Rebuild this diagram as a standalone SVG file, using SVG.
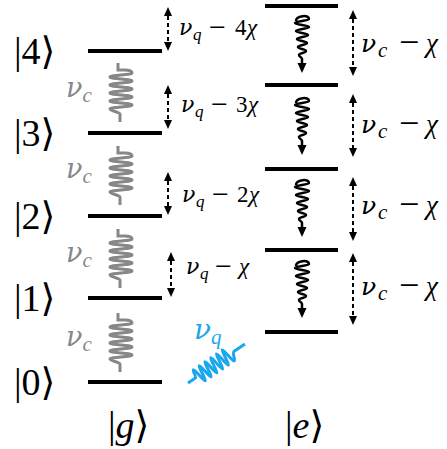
<svg xmlns="http://www.w3.org/2000/svg" width="447" height="449" viewBox="0 0 447 449">
<defs>
<style>
.lvl{stroke:#000;stroke-width:4;fill:none}
text{font-family:'Liberation Serif','DejaVu Serif',serif}
.ket{font-size:38px;fill:#000}
.it{font-style:italic}
.nu{font-family:'DejaVu Serif','Liberation Serif',serif;font-style:italic}
.gspr{stroke:#878787;stroke-width:3;fill:none;stroke-linecap:butt}
.bspr{stroke:#000;stroke-width:2.5;fill:none}
.dash{stroke:#000;stroke-width:2;stroke-dasharray:4 3;fill:none}
</style>
<marker id="ah" viewBox="0 0 9 8" refX="0" refY="4" markerWidth="9" markerHeight="8" markerUnits="userSpaceOnUse" orient="auto-start-reverse">
<path d="M0,0 L9,4 L0,8 z" fill="#000"/>
</marker>
<path id="gs" class="gspr" d="M-3,0 V7 H4 C8,7 11,8 11,10 C11,12 -11,12 -11,14 C-11,16 11,16 11,18 C11,20 -11,20 -11,22 C-11,24 11,24 11,26 C11,28 -11,28 -11,30 C-11,32 11,32 11,34 C11,36 -11,36 -11,38 C-11,40 11,40 11,42 C11,44 -11,44 -11,46 C-11,48 -1,49 -1,51 V59"/>
<g id="bs">
<path class="bspr" d="M-6,6 C-6,1 7,-1 7,4 C7,6 -7,6 -7,8 C-7,10 7,10 7,12 C7,14 -6,14 -6,16 C-6,18 6,18 6,20 C6,22 -5,22 -5,24 C-5,26 5,26 5,28 C5,30 -4,30 -4,32 C-4,34 4,34 4,36 C4,38 -3,38 -3,40 C-3,42 0,42 0,44 V50"/>
<path d="M0,58 L-4.5,48 L4.5,48 z" fill="#000"/>
</g>
</defs>

<g id="g4"><line class="lvl" x1="88" y1="51" x2="162" y2="51"/><text class="ket" x="14" y="64">|4⟩</text></g>
<g id="g3"><line class="lvl" x1="88" y1="133" x2="162" y2="133"/><text class="ket" x="14" y="146">|3⟩</text></g>
<g id="g2"><line class="lvl" x1="88" y1="216" x2="162" y2="216"/><text class="ket" x="14" y="229">|2⟩</text></g>
<g id="g1"><line class="lvl" x1="88" y1="298" x2="162" y2="298"/><text class="ket" x="14" y="311">|1⟩</text></g>
<g id="g0"><line class="lvl" x1="88" y1="382" x2="162" y2="382"/><text class="ket" x="14" y="395">|0⟩</text></g>
<g id="gl"><text class="ket" x="108" y="438">|<tspan class="it">g</tspan>⟩</text></g>

<g id="e4"><line class="lvl" x1="265" y1="6" x2="338" y2="6"/></g>
<g id="e3"><line class="lvl" x1="265" y1="85" x2="338" y2="85"/></g>
<g id="e2"><line class="lvl" x1="265" y1="169" x2="338" y2="169"/></g>
<g id="e1"><line class="lvl" x1="265" y1="250" x2="338" y2="250"/></g>
<g id="e0"><line class="lvl" x1="265" y1="332" x2="338" y2="332"/></g>
<g id="el"><text class="ket" x="285" y="438">|<tspan class="it">e</tspan>⟩</text></g>

<g id="connectors">
<use href="#gs" x="121" y="63"/>
<use href="#gs" x="121" y="146"/>
<use href="#gs" x="121" y="229"/>
<use href="#gs" x="121" y="313"/>
<use href="#bs" x="302" y="15"/>
<use href="#bs" x="302" y="97"/>
<use href="#bs" x="302" y="179"/>
<use href="#bs" x="302" y="260"/>
<line class="dash" x1="168" y1="16" x2="168" y2="42" marker-start="url(#ah)" marker-end="url(#ah)"/>
<line class="dash" x1="168" y1="94" x2="168" y2="120" marker-start="url(#ah)" marker-end="url(#ah)"/>
<line class="dash" x1="168" y1="181" x2="168" y2="206" marker-start="url(#ah)" marker-end="url(#ah)"/>
<line class="dash" x1="171" y1="261" x2="171" y2="288" marker-start="url(#ah)" marker-end="url(#ah)"/>
<line class="dash" x1="353" y1="19" x2="353" y2="67" marker-start="url(#ah)" marker-end="url(#ah)"/>
<line class="dash" x1="353" y1="103" x2="353" y2="148" marker-start="url(#ah)" marker-end="url(#ah)"/>
<line class="dash" x1="353" y1="186" x2="353" y2="232" marker-start="url(#ah)" marker-end="url(#ah)"/>
<line class="dash" x1="353" y1="262" x2="353" y2="316" marker-start="url(#ah)" marker-end="url(#ah)"/>
<path d="M0,0 L9,0 C10.5,0 10.5,-8 12,-8 C13.75,-8 13.75,8 15.5,8 C17.25,8 17.25,-8 19,-8 C20.75,-8 20.75,8 22.5,8 C24.25,8 24.25,-8 26,-8 C27.75,-8 27.75,8 29.5,8 C31.25,8 31.25,-8 33,-8 C34.75,-8 34.75,8 36.5,8 C38.25,8 38.25,-8 40,-8 C41.75,-8 41.75,8 43.5,8 C45.25,8 45.25,-8 47,-8 C48.75,-8 48.75,8 50.5,8 C52.5,8 53,0 56,0 L69,0" transform="translate(188,383) rotate(-34.4)" stroke="#1aa7ec" stroke-width="3" fill="none"/>
</g>

<g id="labels">
<text font-size="23" y="35"><tspan class="nu" x="179" font-size="22">ν</tspan><tspan class="it" x="193" y="40" font-size="17">q</tspan><tspan x="209" y="37" font-size="30">−</tspan><tspan x="235" y="35">4</tspan><tspan class="it" x="247">χ</tspan></text>
<text font-size="23" y="112"><tspan class="nu" x="181" font-size="22">ν</tspan><tspan class="it" x="195" y="117" font-size="17">q</tspan><tspan x="211" y="114" font-size="30">−</tspan><tspan x="236" y="112">3</tspan><tspan class="it" x="248">χ</tspan></text>
<text font-size="23" y="202"><tspan class="nu" x="182" font-size="22">ν</tspan><tspan class="it" x="196" y="207" font-size="17">q</tspan><tspan x="212" y="204" font-size="30">−</tspan><tspan x="237" y="202">2</tspan><tspan class="it" x="249">χ</tspan></text>
<text font-size="23" y="274"><tspan class="nu" x="186" font-size="22">ν</tspan><tspan class="it" x="200" y="279" font-size="17">q</tspan><tspan x="215" y="276" font-size="30">−</tspan><tspan class="it" x="239" y="274">χ</tspan></text>

<text font-size="27" y="52"><tspan class="nu" x="361" font-size="25">ν</tspan><tspan class="it" x="378" y="57" font-size="21">c</tspan><tspan x="399" y="54" font-size="36">−</tspan><tspan class="it" x="426" y="52">χ</tspan></text>
<text font-size="27" y="133"><tspan class="nu" x="361" font-size="25">ν</tspan><tspan class="it" x="378" y="138" font-size="21">c</tspan><tspan x="399" y="135" font-size="36">−</tspan><tspan class="it" x="426" y="133">χ</tspan></text>
<text font-size="27" y="214"><tspan class="nu" x="361" font-size="25">ν</tspan><tspan class="it" x="378" y="219" font-size="21">c</tspan><tspan x="399" y="216" font-size="36">−</tspan><tspan class="it" x="426" y="214">χ</tspan></text>
<text font-size="27" y="295"><tspan class="nu" x="361" font-size="25">ν</tspan><tspan class="it" x="378" y="300" font-size="21">c</tspan><tspan x="399" y="297" font-size="36">−</tspan><tspan class="it" x="426" y="295">χ</tspan></text>

<text font-size="29" x="66" y="97" fill="#878787"><tspan class="nu" font-size="27">ν</tspan><tspan class="it" font-size="21" dy="5">c</tspan></text>
<text font-size="29" x="66" y="178" fill="#878787"><tspan class="nu" font-size="27">ν</tspan><tspan class="it" font-size="21" dy="5">c</tspan></text>
<text font-size="29" x="66" y="262" fill="#878787"><tspan class="nu" font-size="27">ν</tspan><tspan class="it" font-size="21" dy="5">c</tspan></text>
<text font-size="29" x="66" y="346" fill="#878787"><tspan class="nu" font-size="27">ν</tspan><tspan class="it" font-size="21" dy="5">c</tspan></text>
<text font-size="29" x="194" y="339" fill="#1aa7ec"><tspan class="nu" font-size="28">ν</tspan><tspan class="it" font-size="21" dy="5">q</tspan></text>
</g>
</svg>
